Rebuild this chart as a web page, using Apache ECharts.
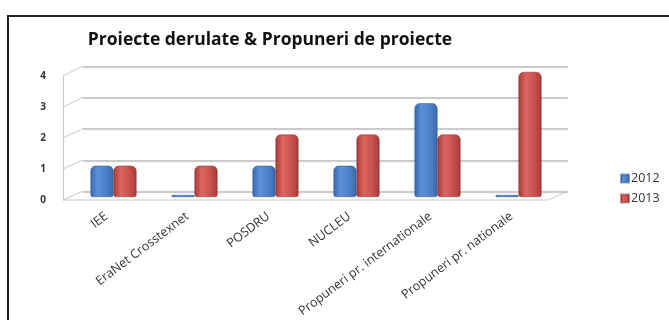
<!DOCTYPE html>
<html>
<head>
<meta charset="utf-8">
<script src="https://cdn.jsdelivr.net/npm/echarts@6/dist/echarts.min.js"></script>
<style>
  html, body { margin: 0; padding: 0; background: #fff; }
  #chart { width: 669px; height: 320px; }
</style>
</head>
<body>
<div id="chart"></div>
<script>
// Chart data
const categories = ['IEE', 'EraNet Crosstexnet', 'POSDRU', 'NUCLEU', 'Propuneri pr. internationale', 'Propuneri pr. nationale'];
const seriesNames = ['2012', '2013'];
const values2012 = [1, 0, 1, 1, 3, 0];
const values2013 = [1, 1, 2, 2, 2, 4];
const yTicks = [0, 1, 2, 3, 4];

const FONT = '"Open Sans", sans-serif';
const WALL = '#c9c9c9';

function cylinder(edge, light, mid) {
  return new echarts.graphic.LinearGradient(0, 0, 1, 0, [
    { offset: 0, color: edge },
    { offset: 0.32, color: light },
    { offset: 0.65, color: mid },
    { offset: 1, color: edge }
  ]);
}

const chart = echarts.init(document.getElementById('chart'));

const yMax = yTicks[yTicks.length - 1];

const option = {
  backgroundColor: '#ffffff',
  animation: false,
  title: {
    text: 'Proiecte derulate & Propuneri de proiecte',
    left: 265, top: 26, textAlign: 'center',
    textStyle: { fontFamily: FONT, fontSize: 17.5, fontWeight: 'bold', color: '#111' }
  },
  legend: {
    data: seriesNames,
    orient: 'vertical',
    left: 615, top: 167,
    itemWidth: 8, itemHeight: 8, itemGap: 7,
    icon: 'rect',
    textStyle: { fontFamily: FONT, fontSize: 12.5, color: '#333', padding: [0, 0, 0, -3] }
  },
  grid: [
    // back wall
    { left: 83, right: 101, top: 66, bottom: 129 },
    // bars
    { left: 73, right: 110, top: 72, bottom: 123 },
    // front value axis
    { left: 63, right: 600, top: 76, bottom: 120 },
    // category labels along the front floor edge
    { left: 66, right: 117, top: 72, bottom: 123 }
  ],
  xAxis: [
    { gridIndex: 0, type: 'category', data: categories, show: false },
    { gridIndex: 1, type: 'category', data: categories, show: false },
    { gridIndex: 2, type: 'category', data: categories, show: false },
    { gridIndex: 3, type: 'category', data: categories,
      axisLine: { show: false }, axisTick: { show: false },
      axisLabel: { interval: 0, rotate: 37, margin: 19, fontFamily: FONT, fontSize: 12.5, color: '#333' } }
  ],
  yAxis: [
    { gridIndex: 0, type: 'value', min: 0, max: yMax, interval: 1,
      axisLabel: { show: false }, axisLine: { show: false }, axisTick: { show: false },
      splitLine: { lineStyle: { color: WALL, width: 1, shadowColor: 'rgba(0,0,0,0.25)', shadowOffsetY: 1, shadowBlur: 1 } } },
    { gridIndex: 1, type: 'value', min: 0, max: yMax, interval: 1, show: false, splitLine: { show: false } },
    { gridIndex: 2, type: 'value', min: 0, max: yMax, interval: 1,
      axisLine: { show: true, lineStyle: { color: WALL } }, axisTick: { show: false },
      splitLine: { show: false },
      axisLabel: { margin: 17, fontFamily: FONT, fontSize: 10, fontWeight: 'bold', color: '#333' } },
    { gridIndex: 3, type: 'value', min: 0, max: yMax, show: false, splitLine: { show: false } }
  ],
  series: [
    {
      name: seriesNames[0], type: 'bar', xAxisIndex: 1, yAxisIndex: 1,
      data: values2012, barWidth: 23, barGap: '0%', barMinHeight: 2,
      itemStyle: { color: cylinder('#3a69ad', '#5c91d9', '#4d82cb'), borderRadius: [5, 5, 2, 2],
                   borderColor: 'rgba(40,80,140,0.5)', borderWidth: 0.5 }
    },
    {
      name: seriesNames[1], type: 'bar', xAxisIndex: 1, yAxisIndex: 1,
      data: values2013, barWidth: 23, barGap: '0%', barMinHeight: 2,
      itemStyle: { color: cylinder('#a63c38', '#dc6560', '#cc5450'), borderRadius: [5, 5, 2, 2],
                   borderColor: 'rgba(140,40,40,0.5)', borderWidth: 0.5 }
    }
  ],
  color: ['#4f81bd', '#c0504d']
};

chart.setOption(option);

// Wall edges: connect each front value tick to the back wall and draw the floor
const graphics = [{
  type: 'rect', shape: { x: 8, y: 16, width: 700, height: 400 },
  style: { fill: null, stroke: '#222', lineWidth: 2 }, silent: true
}];
const backRect = chart.getModel().getComponent('grid', 0).coordinateSystem.getRect();
const frontRect = chart.getModel().getComponent('grid', 2).coordinateSystem.getRect();
const dx = backRect.x - frontRect.x;
yTicks.forEach(function (v) {
  const yb = chart.convertToPixel({ yAxisIndex: 0 }, v);
  const yf = chart.convertToPixel({ yAxisIndex: 2 }, v);
  graphics.push({
    type: 'line', silent: true, z: 1,
    shape: { x1: frontRect.x, y1: yf, x2: backRect.x, y2: yb },
    style: { stroke: WALL, lineWidth: 1 }
  });
});
const y0b = chart.convertToPixel({ yAxisIndex: 0 }, 0);
const y0f = chart.convertToPixel({ yAxisIndex: 2 }, 0);
const rightBack = backRect.x + backRect.width;
graphics.push({
  type: 'polyline', silent: true, z: 1,
  shape: { points: [[frontRect.x, y0f], [rightBack - dx, y0f], [rightBack, y0b]] },
  style: { stroke: WALL, lineWidth: 1, fill: null }
});
chart.setOption({ graphic: graphics });
</script>
</body>
</html>
